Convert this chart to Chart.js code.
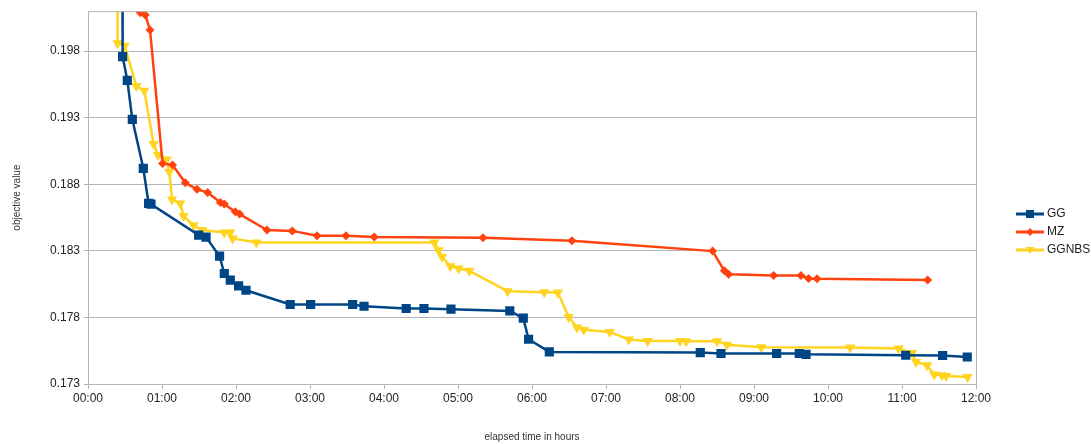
<!DOCTYPE html>
<html lang="en">
<head>
    <meta charset="UTF-8">
    <title>objective value over time</title>
    <script src="https://cdn.jsdelivr.net/npm/chart.js"></script>
    <style>
        body {
            margin: 0;
            padding: 0;
            background-color: #fff;
        }

        #chart-container {
            width: 1091px;
            height: 444px;
        }
    </style>
</head>
<body>
    <div id="chart-container">
        <canvas id="objectiveChart"></canvas>
    </div>

    <script>
        // elapsed hours / objective values
        const ggHours = [0.46, 0.468, 0.531, 0.599, 0.747, 0.819, 0.851, 1.495, 1.595, 1.778, 1.842, 1.923, 2.035, 2.135,
            2.732, 3.008, 3.576, 3.73, 4.30, 4.54, 4.905, 5.70, 5.882, 5.954, 6.234, 8.274, 8.554, 9.306, 9.612, 9.703,
            11.05, 11.549, 11.882];
        const ggValues = [0.215, 0.19759, 0.19581, 0.19288, 0.18920, 0.18656, 0.18651, 0.18418, 0.18403, 0.18260, 0.18130,
            0.18080, 0.18037, 0.18004, 0.17897, 0.17897, 0.17897, 0.17884, 0.17867, 0.17867, 0.17862, 0.17849, 0.17795,
            0.17636, 0.17541, 0.17536, 0.17529, 0.17529, 0.17529, 0.17523, 0.17516, 0.17514, 0.17503];

        const mzHours = [0.69, 0.707, 0.774, 0.838, 1.008, 1.143, 1.315, 1.473, 1.617, 1.788, 1.842, 1.99, 2.049, 2.419,
            2.76, 3.095, 3.486, 3.869, 5.338, 6.54, 8.44, 8.6, 8.657, 9.265, 9.635, 9.738, 9.851, 11.346];
        const mzValues = [0.2015, 0.20089, 0.20072, 0.19959, 0.18957, 0.18944, 0.18811, 0.18762, 0.18739, 0.18664, 0.18651,
            0.18593, 0.18576, 0.18456, 0.18450, 0.18413, 0.18413, 0.18405, 0.18398, 0.18375, 0.18298, 0.18150, 0.18125,
            0.18115, 0.18115, 0.18093, 0.18090, 0.18082];

        const ggnbsHours = [0.395, 0.40, 0.495, 0.653, 0.761, 0.887, 0.946, 1.062, 1.099, 1.135, 1.247, 1.292, 1.427, 1.541,
            1.842, 1.923, 1.954, 2.274, 4.68, 4.738, 4.784, 4.896, 5.008, 5.153, 5.670, 6.166, 6.35, 6.495, 6.608, 6.70,
            7.049, 7.306, 7.562, 8.0, 8.085, 8.5, 8.635, 9.10, 10.30, 10.954, 11.135, 11.19, 11.338, 11.436, 11.54,
            11.598, 11.886];
        const ggnbsValues = [0.215, 0.19859, 0.19841, 0.19538, 0.19503, 0.19102, 0.19020, 0.18987, 0.18894, 0.18686, 0.18656,
            0.18561, 0.18493, 0.18456, 0.18438, 0.18438, 0.18393, 0.18363, 0.18363, 0.18305, 0.18255, 0.18185, 0.18168,
            0.18150, 0.17997, 0.17989, 0.17987, 0.17804, 0.17724, 0.17708, 0.17691, 0.17634, 0.17623, 0.17623, 0.17622,
            0.17622, 0.17594, 0.17576, 0.17574, 0.17566, 0.17533, 0.17465, 0.17441, 0.17371, 0.17365, 0.17360, 0.17353];

        const seriesNames = ['GG', 'MZ', 'GGNBS'];
        const xTickLabels = ['00:00', '01:00', '02:00', '03:00', '04:00', '05:00', '06:00', '07:00', '08:00', '09:00',
            '10:00', '11:00', '12:00'];
        const yTickValues = [0.173, 0.178, 0.183, 0.188, 0.193, 0.198];
        const yTickLabels = ['0.173', '0.178', '0.183', '0.188', '0.193', '0.198'];

        const colors = ['#004586', '#ff420e', '#ffd320'];
        const gridColor = '#b3b3b3';

        function toPoints(hours, values) {
            return hours.map((h, i) => ({ x: h, y: values[i] }));
        }

        // frame round the plot + legend with line and marker, like the office chart
        const framePlugin = {
            id: 'frame',
            afterDraw(chart) {
                const ctx = chart.ctx;
                const a = chart.chartArea;
                ctx.save();
                ctx.strokeStyle = gridColor;
                ctx.lineWidth = 1;
                ctx.beginPath();
                ctx.moveTo(a.left, a.top + 0.5);
                ctx.lineTo(a.right + 0.5, a.top + 0.5);
                ctx.lineTo(a.right + 0.5, a.bottom);
                ctx.stroke();

                const ys = [214, 232, 250];
                const styles = ['rect', 'rectRot', 'triangle'];
                ctx.font = '12px "Liberation Sans", Arial, sans-serif';
                ctx.textBaseline = 'middle';
                seriesNames.forEach((name, i) => {
                    const y = ys[i];
                    ctx.strokeStyle = colors[i];
                    ctx.fillStyle = colors[i];
                    ctx.lineWidth = 3;
                    ctx.beginPath();
                    ctx.moveTo(1016, y);
                    ctx.lineTo(1044, y);
                    ctx.stroke();
                    ctx.beginPath();
                    if (styles[i] === 'rect') {
                        ctx.rect(1026, y - 4, 8, 8);
                    } else if (styles[i] === 'rectRot') {
                        ctx.moveTo(1030, y - 4);
                        ctx.lineTo(1034, y);
                        ctx.lineTo(1030, y + 4);
                        ctx.lineTo(1026, y);
                        ctx.closePath();
                    } else {
                        ctx.moveTo(1025.5, y - 3);
                        ctx.lineTo(1034.5, y - 3);
                        ctx.lineTo(1030, y + 4);
                        ctx.closePath();
                    }
                    ctx.fill();
                    ctx.fillStyle = '#222';
                    ctx.fillText(name, 1047, y);
                });
                ctx.restore();
            }
        };

        const ctx = document.getElementById('objectiveChart').getContext('2d');
        new Chart(ctx, {
            type: 'line',
            data: {
                datasets: [
                    {
                        label: seriesNames[0],
                        data: toPoints(ggHours, ggValues),
                        borderColor: colors[0],
                        backgroundColor: colors[0],
                        borderWidth: 2.5,
                        pointStyle: 'rect',
                        pointRadius: 6.5,
                        pointBorderWidth: 0
                    },
                    {
                        label: seriesNames[1],
                        data: toPoints(mzHours, mzValues),
                        borderColor: colors[1],
                        backgroundColor: colors[1],
                        borderWidth: 2.5,
                        pointStyle: 'rectRot',
                        pointRadius: 4.5,
                        pointBorderWidth: 0
                    },
                    {
                        label: seriesNames[2],
                        data: toPoints(ggnbsHours, ggnbsValues),
                        borderColor: colors[2],
                        backgroundColor: colors[2],
                        borderWidth: 2.5,
                        pointStyle: 'triangle',
                        rotation: 180,
                        pointRadius: 6,
                        pointBorderWidth: 0
                    }
                ]
            },
            options: {
                responsive: true,
                maintainAspectRatio: false,
                animation: false,
                events: [],
                layout: {
                    padding: { top: 11, right: 115, left: 0, bottom: 0 }
                },
                elements: {
                    line: { tension: 0 }
                },
                scales: {
                    x: {
                        type: 'linear',
                        min: 0,
                        max: 12,
                        ticks: {
                            stepSize: 1,
                            color: '#222',
                            padding: 2,
                            maxRotation: 0,
                            font: { family: '"Liberation Sans", Arial, sans-serif', size: 12 },
                            callback: (value, index) => xTickLabels[index]
                        },
                        grid: {
                            drawOnChartArea: false,
                            drawTicks: true,
                            tickLength: 5,
                            color: gridColor
                        },
                        border: { color: gridColor },
                        title: {
                            display: true,
                            text: 'elapsed time in hours',
                            color: '#333',
                            padding: { top: 0, bottom: 1 },
                            font: { family: '"Liberation Sans", Arial, sans-serif', size: 10 }
                        },
                        afterFit(scale) {
                            scale.height = 60;
                        }
                    },
                    y: {
                        min: 0.173,
                        max: 0.201,
                        ticks: {
                            color: '#222',
                            padding: 4,
                            font: { family: '"Liberation Sans", Arial, sans-serif', size: 12 },
                            callback: (value, index) => yTickLabels[index]
                        },
                        afterBuildTicks(scale) {
                            scale.ticks = yTickValues.map(v => ({ value: v }));
                        },
                        grid: {
                            color: gridColor,
                            tickLength: 4
                        },
                        border: { color: gridColor },
                        title: {
                            display: true,
                            text: 'objective value',
                            color: '#333',
                            padding: { top: 11, bottom: 0 },
                            font: { family: '"Liberation Sans", Arial, sans-serif', size: 10 }
                        },
                        afterFit(scale) {
                            scale.width = 88;
                        }
                    }
                },
                plugins: {
                    legend: { display: false },
                    tooltip: { enabled: false }
                }
            },
            plugins: [framePlugin]
        });
    </script>
</body>
</html>
